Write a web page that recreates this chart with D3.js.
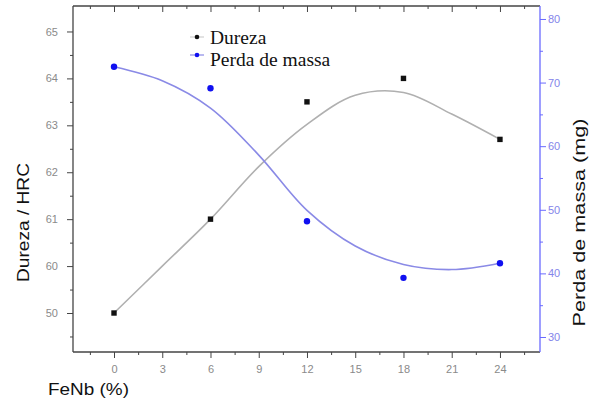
<!DOCTYPE html>
<html>
<head>
<meta charset="utf-8">
<script src="https://cdn.jsdelivr.net/npm/d3@7"></script>
<style>
  body { margin: 0; background: #fff; }
  svg { display: block; }
</style>
</head>
<body>
<script>
// ---- data ----
const fenb = [0, 6, 12, 18, 24];
const dureza = [59.0, 61.0, 63.5, 64.0, 62.7];
const perda = [72.5, 69.1, 48.2, 39.3, 41.6];

// fitted curves
const fitX = [0, 3, 6, 9, 12, 15, 18, 21, 24];
const durezaFit = [59.0, 60.0, 61.0, 62.12, 63.02, 63.64, 63.7, 63.24, 62.7];
const perdaFit = [72.5, 70.3, 66.0, 58.6, 49.9, 44.3, 41.4, 40.6, 41.6];

// ticks
const xTicks = [0, 3, 6, 9, 12, 15, 18, 21, 24];
const xMinor = [-1.5, 1.5, 4.5, 7.5, 10.5, 13.5, 16.5, 19.5, 22.5, 25.5];
const yLTicks = [59, 60, 61, 62, 63, 64, 65];
const yLTickLabels = ["50", "60", "61", "62", "63", "64", "65"];
const yLMinor = [58.5, 59.5, 60.5, 61.5, 62.5, 63.5, 64.5];
const yRTicks = [30, 40, 50, 60, 70, 80];
const yRMinor = [35, 45, 55, 65, 75];

const seriesNames = ["Dureza", "Perda de massa"];

// ---- layout ----
const W = 589, H = 403;
const L = 73, R = 540, T = 6, B = 352;

const svg = d3.select("body").append("svg").attr("width", W).attr("height", H);

const x = d3.scaleLinear().domain([-2.55, 26.49]).range([L, R]);
const yL = d3.scaleLinear().domain([58.169, 65.543]).range([B, T]);
const yR = d3.scaleLinear().domain([27.64, 82.04]).range([B, T]);

const axisCol = "#444";
const blueAxis = "#6a6aff";
const labCol = "#8a8a8a";

function styleAxis(g, col, tcol) {
  g.select(".domain").remove();
  g.selectAll(".tick line").attr("stroke", col).attr("stroke-width", 1);
  g.selectAll(".tick text").attr("fill", tcol)
    .style("font-family", "'Liberation Sans', Arial, sans-serif").style("font-size", "11px");
}

// bottom axis
svg.append("g").attr("transform", `translate(0,${B})`)
  .call(d3.axisBottom(x).tickValues(xTicks).tickSize(6).tickPadding(7).tickFormat(d3.format("d")))
  .call(g => styleAxis(g, axisCol, labCol));
svg.append("g").attr("transform", `translate(0,${B})`)
  .call(d3.axisBottom(x).tickValues(xMinor).tickSize(3).tickFormat(""))
  .call(g => styleAxis(g, axisCol, labCol));

// top axis (inward ticks)
svg.append("g").attr("transform", `translate(0,${T})`)
  .call(d3.axisBottom(x).tickValues(xTicks).tickSize(6).tickFormat(""))
  .call(g => styleAxis(g, axisCol, labCol));
svg.append("g").attr("transform", `translate(0,${T})`)
  .call(d3.axisBottom(x).tickValues(xMinor).tickSize(3).tickFormat(""))
  .call(g => styleAxis(g, axisCol, labCol));

// left axis
svg.append("g").attr("transform", `translate(${L},0)`)
  .call(d3.axisLeft(yL).tickValues(yLTicks).tickSize(6).tickPadding(9)
    .tickFormat((d, i) => yLTickLabels[i]))
  .call(g => styleAxis(g, axisCol, labCol));
svg.append("g").attr("transform", `translate(${L},0)`)
  .call(d3.axisLeft(yL).tickValues(yLMinor).tickSize(3).tickFormat(""))
  .call(g => styleAxis(g, axisCol, labCol));

// right axis
svg.append("g").attr("transform", `translate(${R},0)`)
  .call(d3.axisRight(yR).tickValues(yRTicks).tickSize(6).tickPadding(2).tickFormat(d3.format("d")))
  .call(g => styleAxis(g, blueAxis, "#8484ea"));
svg.append("g").attr("transform", `translate(${R},0)`)
  .call(d3.axisRight(yR).tickValues(yRMinor).tickSize(3).tickFormat(""))
  .call(g => styleAxis(g, blueAxis, "#8484ea"));

// frame lines
svg.append("line").attr("x1", L).attr("x2", R).attr("y1", B).attr("y2", B).attr("stroke", axisCol).attr("stroke-width", 1.3);
svg.append("line").attr("x1", L).attr("x2", R).attr("y1", T).attr("y2", T).attr("stroke", axisCol).attr("stroke-width", 1.3);
svg.append("line").attr("x1", L).attr("x2", L).attr("y1", T).attr("y2", B).attr("stroke", axisCol).attr("stroke-width", 1.3);
svg.append("line").attr("x1", R).attr("x2", R).attr("y1", T).attr("y2", B).attr("stroke", blueAxis).attr("stroke-width", 1.3);

// fitted curves
const lineL = d3.line().x((d, i) => x(fitX[i])).y(d => yL(d)).curve(d3.curveCatmullRom.alpha(0.5));
const lineR = d3.line().x((d, i) => x(fitX[i])).y(d => yR(d)).curve(d3.curveCatmullRom.alpha(0.5));

svg.append("path").attr("d", lineL(durezaFit)).attr("fill", "none")
  .attr("stroke", "#b0b0b0").attr("stroke-width", 1.6);
svg.append("path").attr("d", lineR(perdaFit)).attr("fill", "none")
  .attr("stroke", "#8a8ae6").attr("stroke-width", 1.6);

// points
svg.selectAll(".sq").data(dureza).enter().append("rect")
  .attr("x", (d, i) => x(fenb[i]) - 2.7).attr("y", d => yL(d) - 2.7)
  .attr("width", 5.4).attr("height", 5.4).attr("fill", "#111");
svg.selectAll(".ci").data(perda).enter().append("circle")
  .attr("cx", (d, i) => x(fenb[i])).attr("cy", d => yR(d))
  .attr("r", 3.2).attr("fill", "#1010f0");

// legend
const lg = svg.append("g");
lg.append("line").attr("x1", 190).attr("x2", 204).attr("y1", 37).attr("y2", 37).attr("stroke", "#cfcfcf").attr("stroke-width", 1.2);
lg.append("circle").attr("cx", 197).attr("cy", 37).attr("r", 2.3).attr("fill", "#111");
lg.append("line").attr("x1", 190).attr("x2", 204).attr("y1", 55).attr("y2", 55).attr("stroke", "#8a8ae6").attr("stroke-width", 1.2);
lg.append("circle").attr("cx", 197).attr("cy", 55).attr("r", 2.3).attr("fill", "#1010f0");
lg.append("text").attr("x", 210).attr("y", 44).text(seriesNames[0])
  .style("font-family", "'Liberation Serif', 'Times New Roman', serif").style("font-size", "19.5px").attr("fill", "#111");
lg.append("text").attr("x", 210).attr("y", 66).text(seriesNames[1])
  .style("font-family", "'Liberation Serif', 'Times New Roman', serif").style("font-size", "19.5px").attr("fill", "#111");

// axis titles
const sans = "'Liberation Sans', Arial, sans-serif";
svg.append("text").attr("transform", "translate(29,222.5) rotate(-90)")
  .attr("text-anchor", "middle").text("Dureza / HRC")
  .attr("textLength", 119).attr("lengthAdjust", "spacingAndGlyphs")
  .style("font-family", sans).style("font-size", "17px").attr("fill", "#111");
svg.append("text").attr("transform", "translate(585,222.5) rotate(-90)")
  .attr("text-anchor", "middle").text("Perda de massa (mg)")
  .attr("textLength", 208).attr("lengthAdjust", "spacingAndGlyphs")
  .style("font-family", sans).style("font-size", "17px").attr("fill", "#111");
svg.append("text").attr("x", 48).attr("y", 395).text("FeNb (%)")
  .attr("textLength", 81).attr("lengthAdjust", "spacingAndGlyphs")
  .style("font-family", sans).style("font-size", "17px").attr("fill", "#111");
</script>
</body>
</html>
